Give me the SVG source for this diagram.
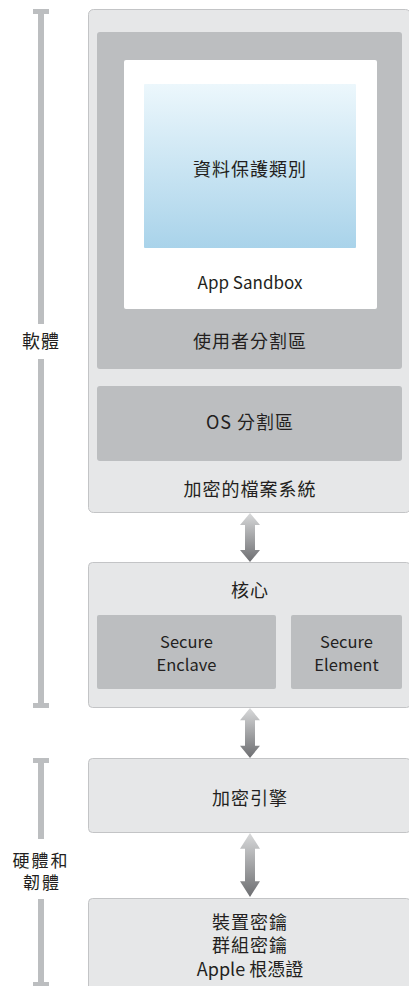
<svg xmlns="http://www.w3.org/2000/svg" width="409" height="986" viewBox="0 0 409 986">
<style>
.outer{fill:#e6e7e8;stroke:#c3c4c6;stroke-width:1}
.inner{fill:#bcbec0}
.bar{fill:#bcbec0}
text{font-family:"Noto Sans CJK TC","Noto Sans",sans-serif;fill:#231f20;text-anchor:middle;dominant-baseline:central}
.zh{font-size:18px;letter-spacing:1px}
.sm{font-size:17px;letter-spacing:2px}
.en{font-size:16.5px}
.app{font-size:17px}
</style>
<defs>
<linearGradient id="blue" x1="0" y1="0" x2="0" y2="1">
<stop offset="0" stop-color="#ecf7fc"/>
<stop offset="1" stop-color="#a9d3ea"/>
</linearGradient>
<linearGradient id="arr" x1="0" y1="0" x2="0" y2="1">
<stop offset="0" stop-color="#d8d9da"/>
<stop offset="1" stop-color="#6d6e71"/>
</linearGradient>
<path id="arrow" d="M0 0 L10 12 L5 12 L5 37 L10 37 L0 49 L-10 37 L-5 37 L-5 12 L-10 12 Z"/>
</defs>
<g id="scale">
<rect class="bar" x="33" y="9" width="16" height="5"/>
<rect class="bar" x="38" y="9" width="6" height="315"/>
<text class="zh" x="41" y="340">軟體</text>
<rect class="bar" x="38" y="359" width="6" height="348"/>
<rect class="bar" x="33" y="703" width="16" height="5"/>
<rect class="bar" x="33" y="758" width="16" height="5"/>
<rect class="bar" x="38" y="758" width="6" height="81"/>
<text class="sm"><tspan x="41" y="859">硬體和</tspan><tspan x="42" y="881">韌體</tspan></text>
<rect class="bar" x="38" y="899" width="6" height="87"/>
<rect class="bar" x="33" y="982" width="16" height="5"/>
</g>
<g id="filesystem">
<rect class="outer" x="88.5" y="9.5" width="322" height="503" rx="5"/>
<text class="zh" x="250" y="488">加密的檔案系統</text>
</g>
<g id="user-partition">
<rect class="inner" x="97" y="32" width="305" height="337" rx="3"/>
<text class="zh" x="250" y="340">使用者分割區</text>
</g>
<g id="app-sandbox">
<rect x="124" y="60" width="253" height="249" rx="2" fill="#ffffff"/>
<text class="app" x="250" y="281">App Sandbox</text>
</g>
<g id="data-protection">
<rect x="144" y="84" width="212" height="164" rx="1" fill="url(#blue)"/>
<text class="zh" x="250" y="168">資料保護類別</text>
</g>
<g id="os-partition">
<rect class="inner" x="97" y="386" width="305" height="75" rx="3"/>
<text class="zh" x="250" y="421">OS 分割區</text>
</g>
<g id="kernel">
<rect class="outer" x="88.5" y="562.5" width="322" height="145" rx="4"/>
<text class="zh" x="250" y="589">核心</text>
</g>
<g id="secure-enclave">
<rect class="inner" x="97" y="615" width="179" height="74" rx="2"/>
<text class="en"><tspan x="186.5" y="641">Secure</tspan><tspan x="186.5" y="664">Enclave</tspan></text>
</g>
<g id="secure-element">
<rect class="inner" x="291" y="615" width="111" height="74" rx="2"/>
<text class="en"><tspan x="346.5" y="641">Secure</tspan><tspan x="346.5" y="664">Element</tspan></text>
</g>
<g id="crypto-engine">
<rect class="outer" x="88.5" y="758.5" width="322" height="74" rx="4"/>
<text class="zh" x="250" y="797">加密引擎</text>
</g>
<g id="keys">
<rect class="outer" x="88.5" y="898.5" width="322" height="100" rx="4"/>
<text class="zh"><tspan x="250" y="921">裝置密鑰</tspan><tspan x="250" y="944">群組密鑰</tspan><tspan x="250" y="968" letter-spacing="0">Apple 根憑證</tspan></text>
</g>
<g id="connectors" fill="url(#arr)">
<use href="#arrow" transform="translate(250 513)"/>
<use href="#arrow" transform="translate(250 708) scale(1 1.02)"/>
<use href="#arrow" transform="translate(250 833) scale(1 1.306)"/>
</g>
</svg>
